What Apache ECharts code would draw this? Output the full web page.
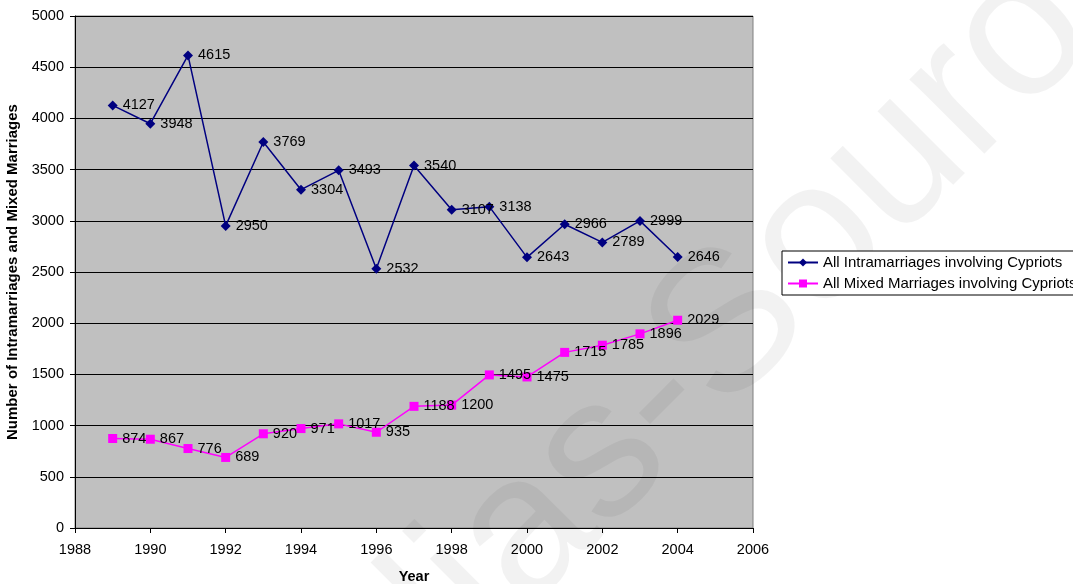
<!DOCTYPE html>
<html><head><meta charset="utf-8">
<script src="https://cdn.jsdelivr.net/npm/echarts@6/dist/echarts.min.js"></script>
<style>html,body{margin:0;padding:0;background:#fff}#c{width:1073px;height:584px}</style>
</head><body><div id="c"></div>
<script>
const years = [1989,1990,1991,1992,1993,1994,1995,1996,1997,1998,1999,2000,2001,2002,2003,2004];
const intra = [4127,3948,4615,2950,3769,3304,3493,2532,3540,3107,3138,2643,2966,2789,2999,2646];
const mixed = [874,867,776,689,920,971,1017,935,1188,1200,1495,1475,1715,1785,1896,2029];
const seriesNames = ['All Intramarriages involving Cypriots','All Mixed Marriages involving Cypriots'];
const xTitle = 'Year';
const yTitle = 'Number of Intramarriages and Mixed Marriages';
const watermark = 'Elias-Sourou';

const FONT = 'Liberation Sans, Arial, sans-serif';
const chart = echarts.init(document.getElementById('c'), null, {renderer:'canvas'});
const pair = arr => years.map((y,i)=>[y,arr[i]]);
const lbl = {show:true, position:'right', distance:5, color:'#000', fontSize:14.5, fontFamily:FONT, formatter: p => String(p.value[1])};
chart.setOption({
  animation:false,
  backgroundColor:'#fff',
  textStyle:{fontFamily:FONT},
  grid:{left:75, right:320, top:16, bottom:56, show:true, backgroundColor:'#c0c0c0', borderColor:'#808080', borderWidth:1,
    containLabel:false, outerBoundsMode:'none'},
  graphic:[{type:'text', x:735, y:325, rotation:Math.PI/4, z:1, silent:true,
    style:{text:watermark, font:'200px "Liberation Sans", Arial, sans-serif', fill:'rgba(0,0,0,0.05)', align:'center', verticalAlign:'middle'}}],
  legend:{orient:'vertical', left:782, top:251, itemWidth:30, itemHeight:10, itemGap:6,
    padding:[4,5,4,5], borderColor:'#000', borderWidth:1, backgroundColor:'#fff',
    textStyle:{fontSize:15, color:'#000', fontFamily:FONT}, data:seriesNames},
  xAxis:{type:'value', min:1988, max:2006, interval:2, name:xTitle, nameLocation:'middle', nameGap:41,
    nameTextStyle:{fontWeight:'bold', fontSize:14.5, color:'#000'},
    axisLine:{show:true, lineStyle:{color:'#000'}}, axisTick:{show:true, length:5, lineStyle:{color:'#000'}},
    axisLabel:{color:'#000', fontSize:14.5, margin:14, formatter: v => String(v)}, splitLine:{show:false}},
  yAxis:{type:'value', min:0, max:5000, interval:500, name:yTitle, nameLocation:'middle', nameGap:48,
    nameTextStyle:{fontWeight:'bold', fontSize:15, color:'#000'},
    axisLine:{show:true, lineStyle:{color:'#000'}}, axisTick:{show:true, length:5, lineStyle:{color:'#000'}},
    axisLabel:{color:'#000', fontSize:14.5, margin:11, formatter: v => String(v)}, splitLine:{show:true, lineStyle:{color:'#000', width:1}}},
  series:[
    {name:seriesNames[0], type:'line', data:pair(intra), symbol:'diamond', symbolSize:10,
      lineStyle:{color:'#000080', width:1.5}, itemStyle:{color:'#000080'}, label:lbl, z:3},
    {name:seriesNames[1], type:'line', data:pair(mixed), symbol:'rect', symbolSize:9,
      lineStyle:{color:'#ff00ff', width:1.5}, itemStyle:{color:'#ff00ff'}, label:lbl, z:3}
  ]
});
</script></body></html>
